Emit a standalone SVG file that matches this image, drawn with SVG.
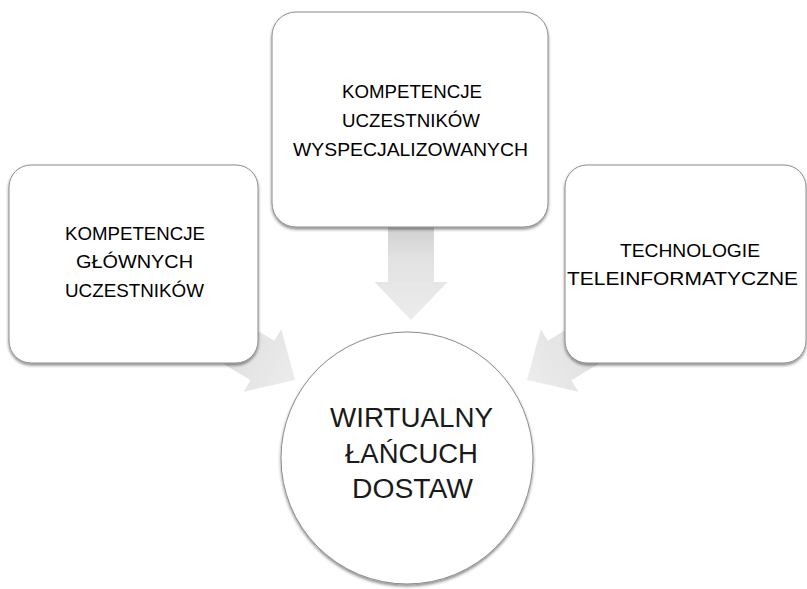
<svg xmlns="http://www.w3.org/2000/svg" width="807" height="589" viewBox="0 0 807 589">
<defs>
<linearGradient id="ag" x1="0" y1="0" x2="1" y2="0">
<stop offset="0" stop-color="#cfcfcf"/>
<stop offset="0.35" stop-color="#e2e2e2"/>
<stop offset="1" stop-color="#ececec"/>
</linearGradient>
<filter id="sh" x="-10%" y="-10%" width="120%" height="125%">
<feDropShadow dx="0" dy="2" stdDeviation="1.8" flood-color="#000" flood-opacity="0.45"/>
</filter>
<polygon id="arrow" points="0,0 -38,-36.5 -38,-23 -95,-23 -95,23 -38,23 -38,36.5"/>
</defs>
<style>
.box{fill:#fff;stroke:#8c8c8c;stroke-width:1;filter:url(#sh)}
.arr{fill:url(#ag)}
.t{font-family:"Liberation Sans",Arial,sans-serif;font-size:18.5px;fill:#000;text-anchor:middle}
.c{font-family:"Liberation Sans",Arial,sans-serif;font-size:27px;fill:#1a1a1a;text-anchor:middle}
</style>
<rect width="807" height="589" fill="#fff"/>
<g id="connectors">
<use href="#arrow" class="arr" transform="translate(411,320) rotate(90)"/>
<use href="#arrow" class="arr" transform="translate(295,380) rotate(31)"/>
<use href="#arrow" class="arr" transform="translate(527,380) rotate(149)"/>
</g>
<g id="node-top">
<rect class="box" x="272" y="12" width="276" height="215" rx="24"/>
<text class="t" x="412" y="98" textLength="140" lengthAdjust="spacingAndGlyphs">KOMPETENCJE</text>
<text class="t" x="411" y="127" textLength="138" lengthAdjust="spacingAndGlyphs">UCZESTNIKÓW</text>
<text class="t" x="410.5" y="156" textLength="235" lengthAdjust="spacingAndGlyphs">WYSPECJALIZOWANYCH</text>
</g>
<g id="node-left">
<rect class="box" x="9" y="165" width="249" height="198" rx="22"/>
<text class="t" x="135" y="240" textLength="140" lengthAdjust="spacingAndGlyphs">KOMPETENCJE</text>
<text class="t" x="134.5" y="268" textLength="117" lengthAdjust="spacingAndGlyphs">GŁÓWNYCH</text>
<text class="t" x="134.5" y="297" textLength="139" lengthAdjust="spacingAndGlyphs">UCZESTNIKÓW</text>
</g>
<g id="node-right">
<rect class="box" x="565" y="165" width="241" height="198" rx="22"/>
<text class="t" x="690" y="257" textLength="140" lengthAdjust="spacingAndGlyphs">TECHNOLOGIE</text>
<text class="t" x="682.5" y="285" textLength="231" lengthAdjust="spacingAndGlyphs">TELEINFORMATYCZNE</text>
</g>
<g id="node-center">
<circle class="box" cx="407" cy="458" r="126"/>
<text class="c" x="411.5" y="427" textLength="163" lengthAdjust="spacingAndGlyphs">WIRTUALNY</text>
<text class="c" x="411.5" y="463" textLength="133" lengthAdjust="spacingAndGlyphs">ŁAŃCUCH</text>
<text class="c" x="412.5" y="498" textLength="121" lengthAdjust="spacingAndGlyphs">DOSTAW</text>
</g>
</svg>
